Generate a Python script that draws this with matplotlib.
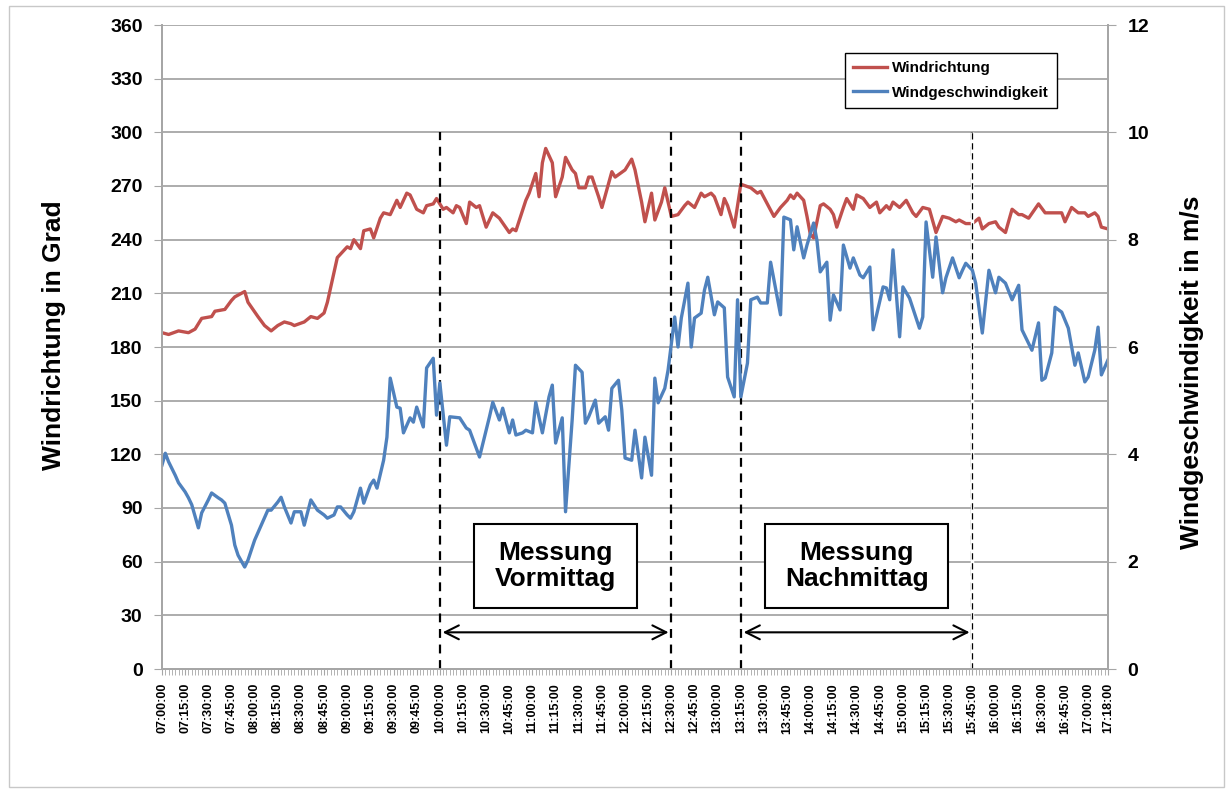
import numpy as np
import pandas as pd
import matplotlib
matplotlib.use("Agg")
import matplotlib.pyplot as plt
from matplotlib.patches import Rectangle

plt.rcParams['font.family'] = ['Liberation Sans', 'DejaVu Sans']

# sample number (category index on the time axis) and value
dir_idx = [0, 2, 5, 8, 10, 12, 15, 16, 19, 21, 22, 25, 26, 29, 31, 33, 35, 37, 39, 40,
           43, 45, 47, 49, 50, 53, 55, 56, 57, 58, 60, 61, 63, 64, 66, 67, 69, 71, 72, 74,
           75, 77, 79, 80, 82, 83, 85, 86, 88, 89, 90, 92, 93, 95, 96, 98, 100, 102, 105, 106,
           107, 110, 111, 113, 114, 115, 116, 118, 119, 121, 122, 124, 125, 126, 128, 129, 130, 132, 133, 136,
           137, 140, 141, 142, 143, 145, 146, 148, 149, 151, 152, 153, 154, 156, 158, 159, 161, 163, 164, 166,
           167, 169, 170, 171, 173, 175, 178, 180, 181, 183, 185, 187, 189, 190, 191, 192, 194, 195, 196, 197,
           199, 200, 202, 203, 204, 206, 207, 209, 210, 212, 214, 216, 217, 219, 220, 221, 223, 225, 227, 228,
           230, 232, 234, 236, 238, 240, 241, 243, 245, 247, 248, 250, 252, 253, 255, 257, 259, 260, 262, 265,
           267, 269, 272, 273, 275, 277, 279, 280, 282, 283, 284, 286]
dir_val = [188, 187, 189, 188, 190, 196, 197, 200, 201, 206, 208, 211, 205, 197, 192, 189, 192, 194, 193, 192,
           194, 197, 196, 199, 205, 230, 234, 236, 235, 240, 235, 245, 246, 241, 252, 255, 254, 262, 258, 266,
           265, 257, 255, 259, 260, 263, 257, 258, 255, 259, 258, 249, 261, 258, 259, 247, 255, 252, 244, 246,
           245, 262, 266, 277, 264, 283, 291, 283, 264, 275, 286, 279, 277, 269, 269, 275, 275, 264, 258, 278,
           275, 279, 282, 285, 279, 261, 250, 266, 251, 261, 269, 261, 253, 254, 259, 261, 258, 266, 264, 266,
           264, 254, 263, 259, 247, 271, 269, 266, 267, 260, 253, 258, 262, 265, 263, 266, 262, 253, 243, 241,
           259, 260, 257, 254, 247, 258, 263, 257, 265, 263, 258, 261, 255, 259, 257, 261, 258, 262, 255, 253,
           258, 257, 244, 253, 252, 250, 251, 249, 249, 252, 246, 249, 250, 247, 244, 257, 254, 254, 252, 260,
           255, 255, 255, 250, 258, 255, 255, 253, 255, 253, 247, 246]

spd_idx = [0, 1, 2, 4, 5, 7, 8, 9, 11, 12, 14, 15, 17, 18, 19, 21, 22, 23, 25, 26,
           28, 30, 32, 33, 35, 36, 37, 39, 40, 42, 43, 45, 47, 49, 50, 52, 53, 54, 56, 57,
           58, 60, 61, 63, 64, 65, 67, 68, 69, 71, 72, 73, 75, 76, 77, 79, 80, 82, 83, 84,
           86, 87, 90, 92, 93, 96, 99, 100, 102, 103, 105, 106, 107, 109, 110, 112, 113, 115, 117, 118,
           119, 121, 122, 124, 125, 127, 128, 129, 131, 132, 134, 135, 136, 138, 139, 140, 142, 143, 145, 146,
           148, 149, 150, 152, 153, 154, 155, 156, 157, 159, 160, 161, 163, 164, 165, 167, 168, 170, 171, 173,
           174, 175, 177, 178, 180, 181, 183, 184, 187, 188, 190, 191, 192, 194, 195, 197, 198, 199, 201, 202,
           203, 205, 206, 208, 209, 211, 212, 214, 215, 218, 219, 220, 221, 223, 224, 226, 229, 230, 231, 233,
           234, 236, 237, 239, 241, 242, 243, 245, 246, 248, 250, 252, 253, 255, 257, 259, 260, 263, 265, 266,
           267, 269, 270, 272, 274, 276, 277, 279, 280, 282, 283, 284, 286]
spd_val = [3.80, 4.02, 3.86, 3.61, 3.47, 3.30, 3.19, 3.06, 2.63, 2.91, 3.15, 3.28, 3.19, 3.15, 3.09, 2.68, 2.31, 2.12, 1.90, 2.03,
           2.40, 2.68, 2.96, 2.96, 3.11, 3.20, 3.02, 2.72, 2.93, 2.93, 2.68, 3.15, 2.96, 2.87, 2.81, 2.87, 3.02, 3.02, 2.87, 2.81,
           2.93, 3.37, 3.09, 3.43, 3.52, 3.37, 3.89, 4.32, 5.42, 4.88, 4.86, 4.40, 4.68, 4.60, 4.88, 4.51, 5.61, 5.79, 4.73, 5.33,
           4.17, 4.70, 4.68, 4.49, 4.45, 3.95, 4.70, 4.97, 4.64, 4.86, 4.40, 4.64, 4.36, 4.40, 4.45, 4.40, 4.97, 4.40, 5.07, 5.29,
           4.21, 4.68, 2.93, 4.64, 5.66, 5.53, 4.58, 4.70, 5.01, 4.58, 4.70, 4.45, 5.23, 5.38, 4.83, 3.93, 3.89, 4.45, 3.56, 4.32,
           3.61, 5.42, 4.96, 5.23, 5.57, 6.07, 6.56, 6.00, 6.54, 7.19, 6.00, 6.54, 6.63, 7.06, 7.30, 6.60, 6.84, 6.73, 5.44, 5.07,
           6.88, 5.07, 5.70, 6.88, 6.93, 6.82, 6.82, 7.58, 6.60, 8.42, 8.37, 7.81, 8.24, 7.66, 7.90, 8.31, 7.99, 7.40, 7.58, 6.50,
           6.97, 6.69, 7.90, 7.47, 7.66, 7.34, 7.29, 7.49, 6.32, 7.12, 7.10, 6.88, 7.81, 6.19, 7.12, 6.91, 6.35, 6.56, 8.33, 7.30,
           8.05, 7.01, 7.29, 7.66, 7.29, 7.43, 7.56, 7.43, 7.19, 6.26, 7.43, 7.01, 7.30, 7.19, 6.88, 7.15, 6.32, 5.94, 6.45, 5.38,
           5.42, 5.89, 6.74, 6.65, 6.35, 5.66, 5.89, 5.35, 5.44, 5.94, 6.37, 5.48, 5.76]

n_cat = 287
tick_labels = [t.strftime('%H:%M:%S') for t in pd.date_range('07:00', '17:00', freq='15min')] + ['17:18:00']
tick_pos = list(range(0, 281, 7)) + [286]

# measurement periods: start / end category
periods = [('Messung\nVormittag', 84, 154), ('Messung\nNachmittag', 175, 245)]

red = '#C0504D'
blue = '#4F81BD'
grid_c = '#a6a6a6'

fig = plt.figure(figsize=(12.32, 7.93), dpi=100)
fig.patches.append(Rectangle((9 / 1232, 6 / 793), 1215 / 1232, 781 / 793, transform=fig.transFigure,
                             fill=False, edgecolor='#c8c8c8', lw=1))
ax = fig.add_axes([162 / 1232, 124 / 793, 946 / 1232, 644 / 793])
ax2 = ax.twinx()

l1, = ax.plot(dir_idx, dir_val, color=red, lw=2.4, solid_joinstyle='round')
l2, = ax2.plot(spd_idx, spd_val, color=blue, lw=2.4, solid_joinstyle='round')

ax.set_xlim(0, n_cat - 1)
ax.set_ylim(0, 360)
ax.set_yticks(np.arange(0, 361, 30))
ax2.set_ylim(0, 12)
ax2.set_yticks(np.arange(0, 13, 2))
ax.yaxis.grid(True, color=grid_c, lw=1.3)
ax.set_axisbelow(True)

ax.set_xticks(tick_pos)
ax.set_xticklabels(tick_labels, rotation=90, fontsize=9, fontweight='bold')
ax.set_xticks(np.arange(n_cat), minor=True)
ax.tick_params(axis='x', which='both', length=4, color=grid_c, pad=6)
ax.tick_params(axis='y', length=6, color=grid_c, labelsize=14, pad=8)
ax2.tick_params(axis='y', length=6, color=grid_c, labelsize=14, pad=8)
for lab in ax.get_yticklabels() + ax2.get_yticklabels():
    lab.set_fontweight('bold')

for a in (ax, ax2):
    for s in a.spines.values():
        s.set_color(grid_c)
        s.set_linewidth(1.3)
    a.spines['top'].set_visible(False)

ax.set_ylabel('Windrichtung in Grad', fontsize=19, fontweight='bold')
ax.yaxis.set_label_coords(-0.101, 0.519)
ax2.set_ylabel('Windgeschwindigkeit in m/s', fontsize=19, fontweight='bold')
ax2.yaxis.set_label_coords(1.076, 0.461)

# period markers
for i, (name, x0, x1) in enumerate(periods):
    ax.vlines([x0, x1], 0, 300, colors='black', lw=1.6, linestyles=(0, (4, 3)), zorder=3)
    ax.annotate('', xy=(x0, 20.5), xytext=(x1, 20.5),
                arrowprops=dict(arrowstyle='<->', lw=1.5, color='black', mutation_scale=25), zorder=4)
    cx = (x0 + x1) / 2
    w = 49.5 if i == 0 else 55.5
    ax.add_patch(Rectangle((cx - w / 2, 34), w, 47, facecolor='white', edgecolor='black', lw=1.5, zorder=4))
    ax.text(cx, 57.5, name, ha='center', va='center', fontsize=19, fontweight='bold',
            linespacing=1.1, zorder=5)
# last marker is drawn finer in the original
ax.vlines([245], 0, 300, colors='white', lw=2.5, zorder=3)
ax.vlines([245], 0, 300, colors='black', lw=0.9, linestyles=(0, (5, 3)), zorder=3)

leg = ax2.legend([l1, l2], ['Windrichtung', 'Windgeschwindigkeit'], loc='upper left',
                 bbox_to_anchor=(0.722, 0.957), borderaxespad=0, fancybox=False, edgecolor='black',
                 framealpha=1, prop={'size': 11, 'weight': 'bold'}, handlelength=2.2,
                 handletextpad=0.3, labelspacing=0.7, borderpad=0.55)
leg.get_frame().set_linewidth(1.0)

fig.savefig('out.png', dpi=100)
